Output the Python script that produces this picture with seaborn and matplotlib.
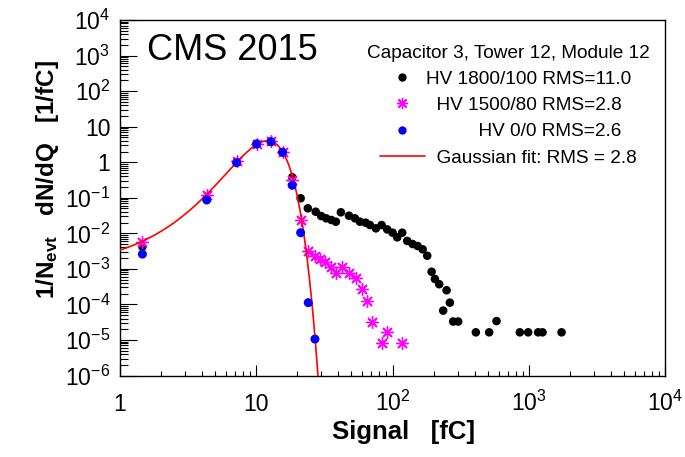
import numpy as np
import pandas as pd
import matplotlib
matplotlib.use("Agg")
import matplotlib.pyplot as plt
from matplotlib.lines import Line2D
from matplotlib.ticker import LogLocator, FixedLocator, FuncFormatter, NullFormatter
import seaborn as sns

# HV 1800/100 (black)
hv1800_x = [1.46, 4.33, 7.18, 10.07, 12.82, 15.6, 18.37, 21.17, 23.9, 27.3,
            29.95, 32.6, 35.6, 38.4, 41.8, 47.9, 53.0, 57.7, 63.5, 68.3,
            75.5, 83.2, 91.4, 100.2, 108.3, 117.8, 128.2, 140.4, 152.8, 166.3,
            179.8, 193.6, 204.7, 220.2, 235.5, 249.4, 263.7, 278.8, 303.4, 409,
            512, 580, 860, 990, 1172, 1262, 1741]
hv1800_y = [4.2e-3, 0.095, 1.0, 3.3, 3.8, 1.9, 0.376, 0.0967, 0.0505, 0.0405,
            0.0307, 0.0264, 0.0237, 0.0212, 0.039, 0.0313, 0.0264, 0.0212, 0.0199, 0.0171,
            0.0138, 0.0171, 0.0129, 0.0104, 0.0077, 0.0104, 0.0061, 0.0050, 0.0044, 0.00355,
            0.00234, 8.3e-4, 5.2e-4, 3.7e-4, 6.7e-5, 2.5e-4, 1.12e-4, 3.3e-5, 3.3e-5, 1.64e-5,
            1.64e-5, 3.4e-5, 1.64e-5, 1.64e-5, 1.64e-5, 1.64e-5, 1.64e-5]

# HV 1500/80 (magenta)
hv1500_x = [1.46, 4.33, 7.18, 10.07, 12.82, 15.6, 18.37, 21.17, 24.07, 26.96,
            29.3, 31.9, 35.3, 38.4, 42.3, 47.9, 53.9, 59.3, 64.6, 70.3,
            83.2, 90.5, 117.8]
hv1500_y = [5.8e-3, 0.119, 1.05, 3.35, 3.9, 1.95, 0.315, 0.0237, 3.24e-3, 2.3e-3,
            1.86e-3, 1.59e-3, 1.1e-3, 7.8e-4, 1.1e-3, 7.5e-4, 5.4e-4, 2.66e-4, 1.25e-4, 3.3e-5,
            8.4e-6, 1.7e-5, 8.4e-6]

# HV 0/0 (blue)
hv0_x = [1.46, 4.33, 7.18, 10.07, 12.82, 15.6, 18.37, 21.17, 24.07, 26.96]
hv0_y = [2.6e-3, 0.0865, 0.97, 3.25, 3.77, 1.90, 0.224, 0.0104, 1.12e-4, 1.06e-5]

# Gaussian fit parameters
fit_amp = 4.0
fit_mean = 12.1
fit_sigma = 2.95

header = "Capacitor 3, Tower 12, Module 12"
labels = ["HV 1800/100 RMS=11.0",
          "  HV 1500/80 RMS=2.8",
          "          HV 0/0 RMS=2.6",
          "  Gaussian fit: RMS = 2.8"]

sns.set_style("white")
plt.rcParams['font.family'] = ['Liberation Sans', 'DejaVu Sans']
plt.rcParams['mathtext.fontset'] = 'custom'
plt.rcParams['mathtext.rm'] = 'Liberation Sans'
plt.rcParams['mathtext.it'] = 'Liberation Sans:italic'
plt.rcParams['mathtext.bf'] = 'Liberation Sans:bold'
plt.rcParams['text.color'] = 'black'
plt.rcParams['axes.labelcolor'] = 'black'
plt.rcParams['xtick.color'] = 'black'
plt.rcParams['ytick.color'] = 'black'
plt.rcParams['legend.labelcolor'] = 'black'

fig = plt.figure(figsize=(6.85, 4.57), dpi=100)
ax = fig.add_axes([0.1752, 0.1783, 0.7956, 0.7779])

star = (8, 2, 0)
df_black = pd.DataFrame({"signal": hv1800_x, "dndq": hv1800_y})
df_mag = pd.DataFrame({"signal": hv1500_x, "dndq": hv1500_y})
df_blue = pd.DataFrame({"signal": hv0_x, "dndq": hv0_y})

sns.scatterplot(data=df_black, x="signal", y="dndq", ax=ax, color="black",
                s=38, edgecolor="none", zorder=3, legend=False)
sns.scatterplot(data=df_mag, x="signal", y="dndq", ax=ax, color="#ff00ff",
                marker=star, s=72, linewidth=1.0, zorder=4, legend=False)

# fitted Gaussian curve
fit_x = np.logspace(0, np.log10(30), 500)
fit_y = fit_amp * np.exp(-0.5 * ((fit_x - fit_mean) / fit_sigma) ** 2)
sns.lineplot(x=fit_x, y=fit_y, ax=ax, color="red", lw=1.2, zorder=5, legend=False)

sns.scatterplot(data=df_blue, x="signal", y="dndq", ax=ax, color="blue",
                s=42, edgecolor="none", zorder=6, legend=False)

ax.set_xscale("log")
ax.set_yscale("log")
ax.set_xlim(1, 1e4)
ax.set_ylim(1e-6, 1e4)


def log_fmt(v, pos):
    e = int(round(np.log10(v)))
    if e == 0:
        return "1"
    if e == 1:
        return "10"
    return r"$10^{%d}$" % e


ax.xaxis.set_major_locator(FixedLocator([1, 10, 100, 1000, 10000]))
ax.xaxis.set_minor_locator(LogLocator(base=10, subs=np.arange(2, 10), numticks=50))
ax.xaxis.set_major_formatter(FuncFormatter(log_fmt))
ax.xaxis.set_minor_formatter(NullFormatter())
ax.yaxis.set_major_locator(FixedLocator([10.0 ** e for e in range(-6, 5)]))
ax.yaxis.set_minor_locator(LogLocator(base=10, subs=np.arange(2, 10), numticks=50))
ax.yaxis.set_major_formatter(FuncFormatter(log_fmt))
ax.yaxis.set_minor_formatter(NullFormatter())

ax.tick_params(which="both", bottom=True, left=True, top=False, right=False)
ax.tick_params(axis="x", which="major", direction="in", length=7.7, width=0.8,
               labelsize=16.5, pad=25.5, colors="black")
ax.tick_params(axis="x", which="minor", direction="in", length=3.8, width=0.8)
ax.tick_params(axis="y", which="major", direction="in", length=11.9, width=0.8,
               labelsize=16.5, pad=7, colors="black")
ax.tick_params(axis="y", which="minor", direction="in", length=5.9, width=0.8)
for t in ax.xaxis.get_major_ticks():
    t.label1.set_verticalalignment("baseline")

for sp in ax.spines.values():
    sp.set_color("black")
    sp.set_linewidth(1.0)

ax.set_xlabel("Signal   [fC]", fontsize=18.5, fontweight="bold", color="black")
ax.xaxis.label.set_verticalalignment("baseline")
ax.xaxis.set_label_coords(0.521, -0.1795)
ax.set_ylabel(r"1/N$_{\mathbf{evt}}$   dN/dQ   [1/fC]", fontsize=17.5,
              fontweight="bold", loc="top", color="black")
ax.yaxis.set_label_coords(-0.109, 0.8875)

ax.text(0.0495, 0.8875, "CMS 2015", transform=ax.transAxes, fontsize=26,
        va="baseline", ha="left", color="black")

handles = [
    Line2D([], [], ls="none", marker="o", color="black", ms=6, mec="none"),
    Line2D([], [], ls="none", marker=star, color="#ff00ff", ms=8, mew=1.0),
    Line2D([], [], ls="none", marker="o", color="blue", ms=6, mec="none"),
    Line2D([], [], color="red", lw=1.2),
]
leg = ax.legend(handles, labels, title=header, loc="upper center",
                bbox_to_anchor=(0.712, 0.931), frameon=False, fontsize=13.7,
                title_fontsize=13.7, handlelength=2.37, handletextpad=0.05,
                labelspacing=0.47, borderpad=0, borderaxespad=0)
leg.get_title().set_color("black")

fig.savefig("out.png", dpi=100)
